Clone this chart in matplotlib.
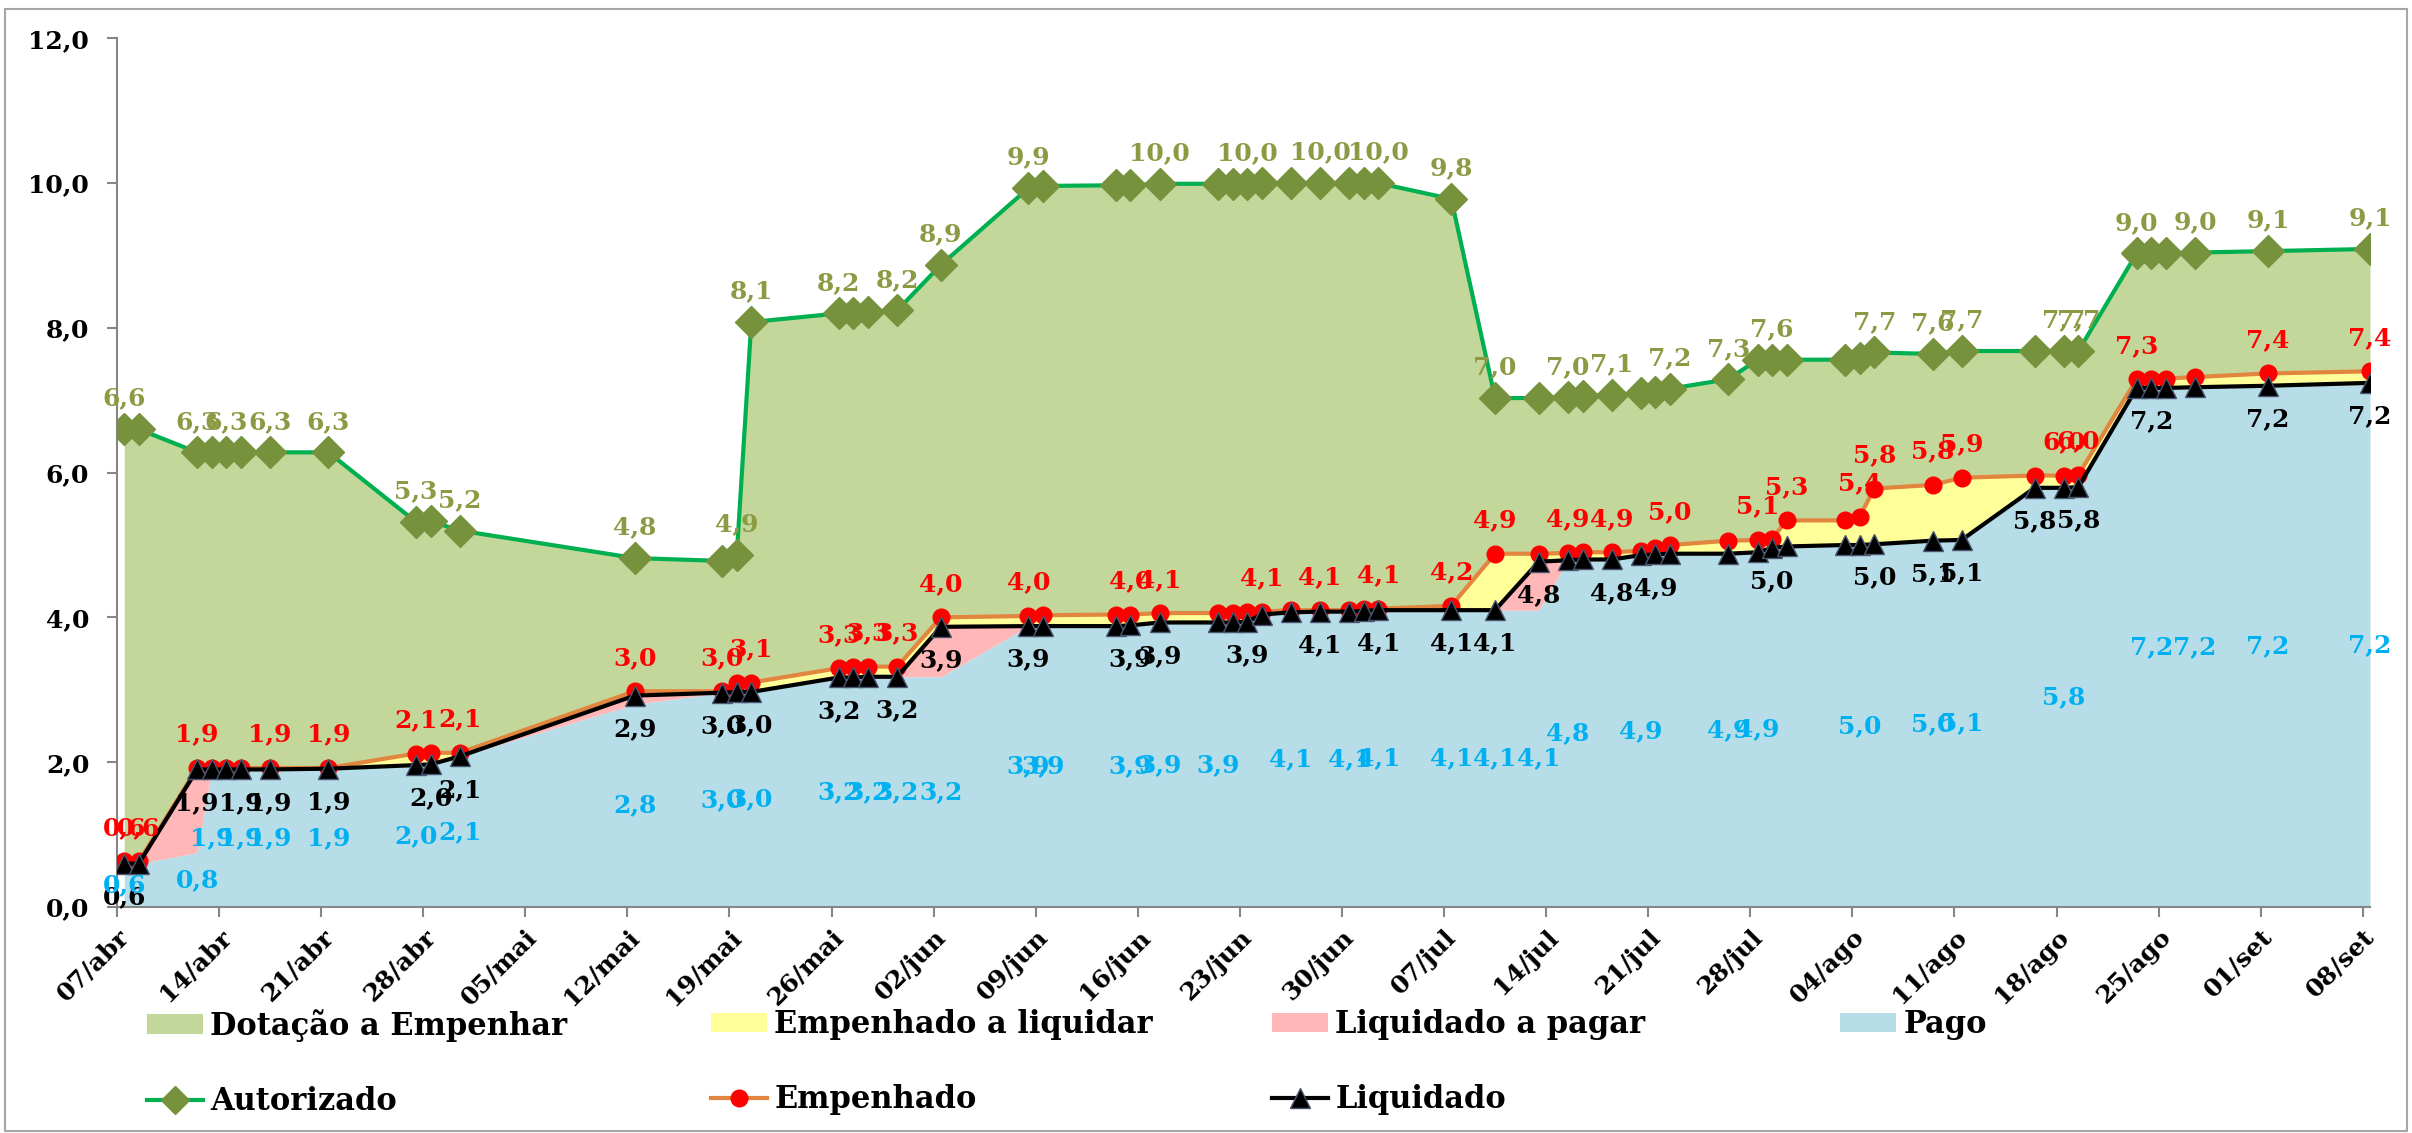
import numpy as np
import pandas as pd
import matplotlib
matplotlib.use("Agg")
import matplotlib.pyplot as plt
from matplotlib.patches import Patch, Rectangle
from matplotlib.lines import Line2D

# dates of the daily records (dd/mm), first week tick = 07/abr
dates = ["07/04", "08/04", "12/04", "13/04", "14/04", "15/04", "17/04", "21/04",
         "27/04", "28/04", "30/04", "12/05", "18/05", "19/05", "20/05", "26/05",
         "27/05", "28/05", "30/05", "02/06", "08/06", "09/06", "14/06", "15/06",
         "17/06", "21/06", "22/06", "23/06", "24/06", "26/06", "28/06", "30/06",
         "01/07", "02/07", "07/07", "10/07", "13/07", "15/07", "16/07", "18/07",
         "20/07", "21/07", "22/07", "26/07", "28/07", "29/07", "30/07", "03/08",
         "04/08", "05/08", "09/08", "11/08", "16/08", "18/08", "19/08", "23/08",
         "24/08", "25/08", "27/08", "01/09", "08/09"]

autorizado = [6.60, 6.60, 6.28, 6.28, 6.28, 6.28, 6.28, 6.28, 5.32, 5.33, 5.20,
              4.82, 4.78, 4.86, 8.08, 8.20, 8.21, 8.22, 8.24, 8.87, 9.93, 9.96,
              9.97, 9.97, 9.99, 9.99, 9.99, 9.99, 10.00, 10.00, 10.00, 10.00,
              10.00, 10.00, 9.78, 7.03, 7.03, 7.04, 7.06, 7.07, 7.10, 7.12, 7.16,
              7.29, 7.56, 7.56, 7.56, 7.56, 7.58, 7.66, 7.64, 7.68, 7.68, 7.68,
              7.68, 9.03, 9.03, 9.03, 9.04, 9.06, 9.09]

empenhado = [0.63, 0.63, 1.92, 1.92, 1.92, 1.92, 1.92, 1.92, 2.12, 2.13, 2.13,
             2.98, 2.98, 3.09, 3.10, 3.30, 3.31, 3.32, 3.32, 4.00, 4.02, 4.03,
             4.04, 4.04, 4.06, 4.06, 4.06, 4.07, 4.08, 4.10, 4.10, 4.10, 4.11,
             4.12, 4.16, 4.88, 4.88, 4.89, 4.90, 4.90, 4.92, 4.96, 5.00, 5.06,
             5.07, 5.09, 5.34, 5.34, 5.39, 5.78, 5.83, 5.93, 5.96, 5.96, 5.97,
             7.29, 7.30, 7.30, 7.32, 7.37, 7.40]

liquidado = [0.60, 0.60, 1.90, 1.90, 1.90, 1.90, 1.90, 1.91, 1.96, 1.97, 2.08,
             2.92, 2.96, 2.97, 2.97, 3.17, 3.17, 3.18, 3.18, 3.87, 3.88, 3.88,
             3.88, 3.89, 3.93, 3.93, 3.93, 3.94, 4.04, 4.07, 4.08, 4.08, 4.09,
             4.10, 4.10, 4.10, 4.77, 4.79, 4.80, 4.80, 4.86, 4.87, 4.88, 4.88,
             4.90, 4.96, 4.98, 5.00, 5.00, 5.01, 5.06, 5.07, 5.79, 5.79, 5.80,
             7.17, 7.17, 7.17, 7.18, 7.20, 7.24]

pago = [0.60, 0.60, 0.75, 1.90, 1.90, 1.90, 1.90, 1.91, 1.96, 1.97, 2.08,
        2.80, 2.96, 2.97, 2.97, 3.17, 3.17, 3.18, 3.18, 3.18, 3.88, 3.88,
        3.88, 3.89, 3.93, 3.93, 3.93, 3.94, 4.04, 4.07, 4.08, 4.08, 4.09,
        4.10, 4.10, 4.10, 4.10, 4.79, 4.80, 4.80, 4.86, 4.87, 4.88, 4.88,
        4.90, 4.96, 4.98, 5.00, 5.00, 5.01, 5.04, 5.07, 5.79, 5.79, 5.80,
        7.17, 7.17, 7.17, 7.18, 7.20, 7.24]

tick_labels = ["07/abr", "14/abr", "21/abr", "28/abr", "05/mai", "12/mai",
               "19/mai", "26/mai", "02/jun", "09/jun", "16/jun", "23/jun",
               "30/jun", "07/jul", "14/jul", "21/jul", "28/jul", "04/ago",
               "11/ago", "18/ago", "25/ago", "01/set", "08/set"]

# dates whose points carry a data label in the original chart
lbl_autorizado = ["07/04", "12/04", "14/04", "17/04", "21/04", "27/04", "30/04",
                  "12/05", "19/05", "20/05", "26/05", "30/05", "02/06", "08/06",
                  "17/06", "23/06", "28/06", "02/07", "07/07", "10/07", "15/07",
                  "18/07", "22/07", "26/07", "29/07", "05/08", "09/08", "11/08",
                  "18/08", "19/08", "23/08", "27/08", "01/09", "08/09"]
lbl_empenhado = ["07/04", "08/04", "12/04", "17/04", "21/04", "27/04", "30/04",
                 "12/05", "18/05", "20/05", "26/05", "28/05", "30/05", "02/06",
                 "08/06", "15/06", "17/06", "24/06", "28/06", "02/07", "07/07",
                 "10/07", "15/07", "18/07", "22/07", "28/07", "30/07", "04/08",
                 "05/08", "09/08", "11/08", "18/08", "19/08", "23/08", "01/09",
                 "08/09"]
lbl_liquidado = ["07/04", "12/04", "15/04", "17/04", "21/04", "28/04", "30/04",
                 "12/05", "18/05", "20/05", "26/05", "30/05", "02/06", "08/06",
                 "15/06", "17/06", "23/06", "28/06", "02/07", "07/07", "10/07",
                 "13/07", "18/07", "21/07", "29/07", "05/08", "09/08", "11/08",
                 "16/08", "19/08", "24/08", "01/09", "08/09"]
lbl_pago = ["07/04", "12/04", "13/04", "15/04", "17/04", "21/04", "27/04",
            "30/04", "12/05", "18/05", "20/05", "26/05", "28/05", "30/05",
            "02/06", "08/06", "09/06", "15/06", "17/06", "21/06", "26/06",
            "30/06", "02/07", "07/07", "10/07", "13/07", "15/07", "20/07",
            "26/07", "28/07", "04/08", "09/08", "11/08", "18/08", "24/08",
            "27/08", "01/09", "08/09"]

C_DOT = "#C4D79B"
C_EMPLIQ = "#FFFF99"
C_LIQPAG = "#FFB7B7"
C_PAGO = "#B7DDE8"
FONT = "DejaVu Serif"


def fmt(v):
    return f"{v:.1f}".replace(".", ",")


start = pd.Timestamp("2014-04-07")
x = np.array([(pd.Timestamp(f"2014-{d[3:]}-{d[:2]}") - start).days for d in dates]) + 0.5
aut = np.array(autorizado)
emp = np.array(empenhado)
liq = np.array(liquidado)
pg = np.array(pago)

fig = plt.figure(figsize=(24.12, 11.33), dpi=100)
ax = fig.add_axes([0.0485, 0.1995, 0.9341, 0.7667])

# stacked areas
ax.fill_between(x, 0, pg, color=C_PAGO, lw=0, zorder=1)
ax.fill_between(x, pg, liq, color=C_LIQPAG, lw=0, zorder=1)
ax.fill_between(x, liq, emp, color=C_EMPLIQ, lw=0, zorder=1)
ax.fill_between(x, emp, aut, color=C_DOT, lw=0, zorder=1)

# lines
ax.plot(x, aut, color="#00B050", lw=3, marker="D", ms=16,
        mfc="#76923C", mec="#76923C", zorder=3)
ax.plot(x, emp, color="#E2853E", lw=3, marker="o", ms=12,
        mfc="#FF0000", mec="#FF0000", zorder=4)
ax.plot(x, liq, color="black", lw=3, marker="^", ms=15,
        mfc="black", mec="#4A5670", mew=1, zorder=5)

# data labels
series = [(aut, lbl_autorizado, "#8C9A44", 22),
          (emp, lbl_empenhado, "#FF0000", 24),
          (liq, lbl_liquidado, "black", -24)]
for vals, lbls, col, dy in series:
    for d in lbls:
        i = dates.index(d)
        ax.annotate(fmt(vals[i]), (x[i], vals[i]), xytext=(0, dy),
                    textcoords="offset points", ha="center", va="center",
                    fontsize=18, fontweight="bold", family=FONT, color=col,
                    zorder=10)
for d in lbl_pago:
    i = dates.index(d)
    ax.text(x[i], pg[i] / 2, fmt(pg[i]), ha="center", va="center",
            fontsize=18, fontweight="bold", family=FONT, color="#00B0F0",
            zorder=10)

# axes
ax.set_xlim(0, 154.5)
ax.set_ylim(0, 12)
ax.set_xticks(np.arange(len(tick_labels)) * 7)
ax.set_xticklabels(tick_labels, rotation=45, ha="right", rotation_mode="anchor",
                   fontsize=18, fontweight="bold", family=FONT)
yt = np.arange(0, 13, 2)
ax.set_yticks(yt)
ax.set_yticklabels([fmt(v) for v in yt], fontsize=18, fontweight="bold",
                   family=FONT)
ax.tick_params(axis="x", direction="out", length=7, width=1.5, color="#868686", pad=6)
ax.tick_params(axis="y", direction="out", length=7, width=1.5, color="#868686", pad=13)
for s in ["top", "right"]:
    ax.spines[s].set_visible(False)
for s in ["left", "bottom"]:
    ax.spines[s].set_color("#868686")
    ax.spines[s].set_linewidth(1.5)

# legend: four columns, two rows
h_dot = Patch(facecolor=C_DOT, edgecolor="none")
h_empliq = Patch(facecolor=C_EMPLIQ, edgecolor="none")
h_liqpag = Patch(facecolor=C_LIQPAG, edgecolor="none")
h_pago = Patch(facecolor=C_PAGO, edgecolor="none")
h_aut = Line2D([], [], color="#00B050", lw=3, marker="D", ms=14,
               mfc="#76923C", mec="#76923C")
h_emp = Line2D([], [], color="#E2853E", lw=3, marker="o", ms=12,
               mfc="#FF0000", mec="#FF0000")
h_liq = Line2D([], [], color="black", lw=3, marker="^", ms=14,
               mfc="black", mec="#4A5670")

columns = [([h_dot, h_aut], ["Dotação a Empenhar", "Autorizado"], 0.0609),
           ([h_empliq, h_emp], ["Empenhado a liquidar", "Empenhado"], 0.2948),
           ([h_liqpag, h_liq], ["Liquidado a pagar", "Liquidado"], 0.5274),
           ([h_pago], ["Pago"], 0.7629)]
for hs, ls, lx in columns:
    fig.legend(hs, ls, loc="upper left", bbox_to_anchor=(lx, 0.1094),
               frameon=False, borderpad=0, borderaxespad=0,
               handlelength=1.84, handleheight=0.6, handletextpad=0.23,
               labelspacing=1.45,
               prop={"family": FONT, "weight": "bold", "size": 22})

fig.add_artist(Rectangle((0.002, 0.002), 0.996, 0.990, transform=fig.transFigure,
                         fill=False, edgecolor="#A6A6A6", lw=1.5))

fig.savefig("out.png", dpi=100)
